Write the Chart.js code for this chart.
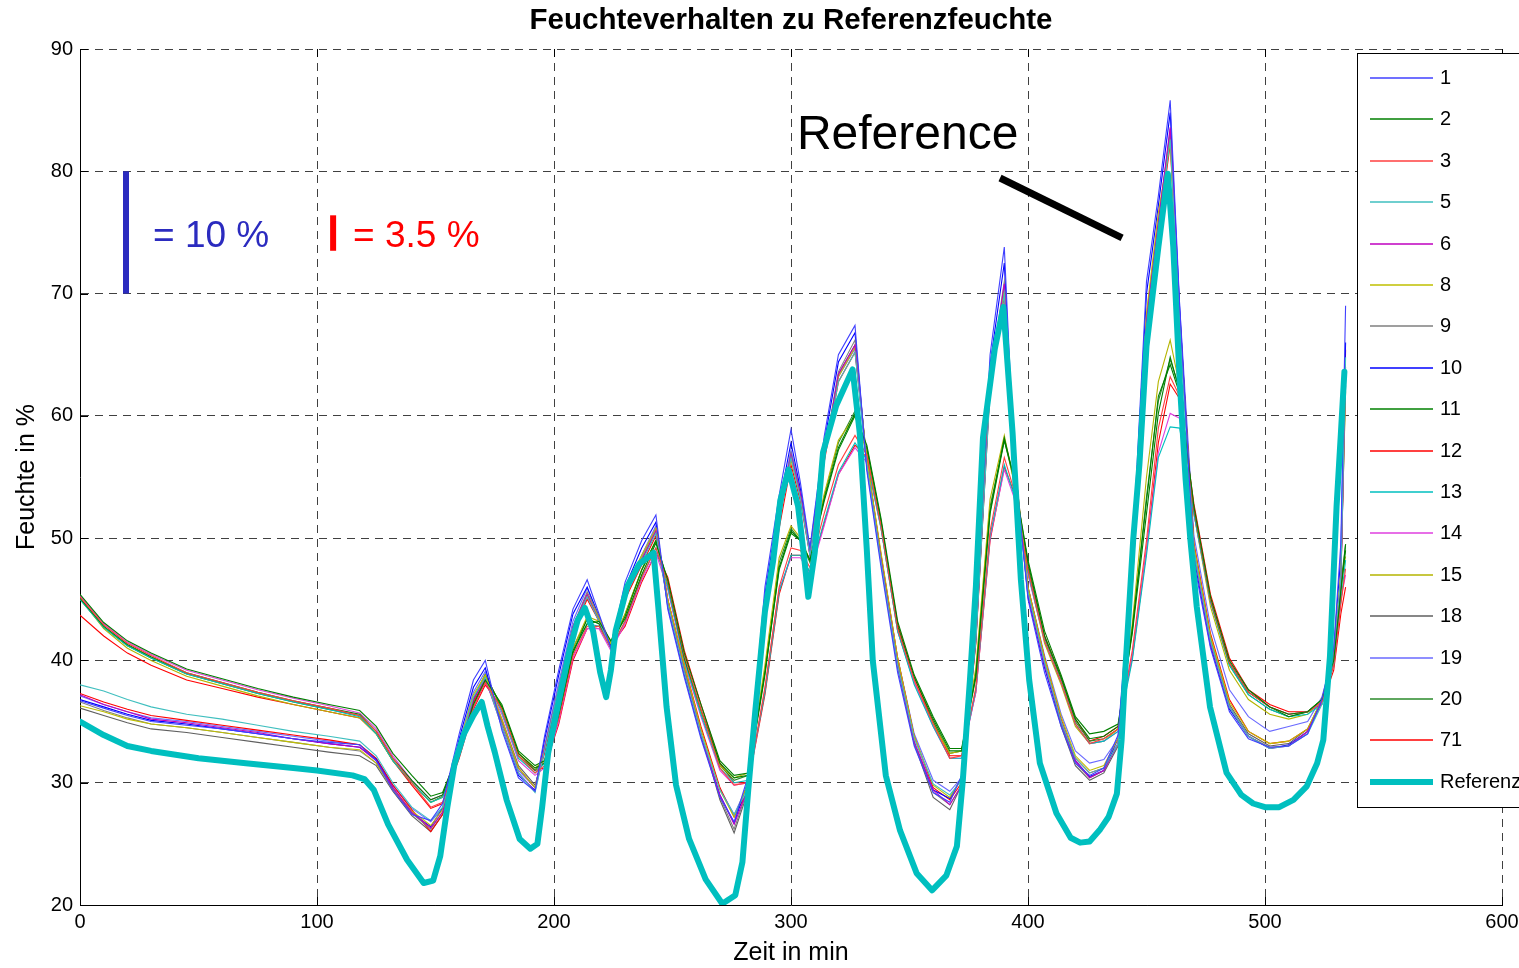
<!DOCTYPE html>
<html>
<head>
<meta charset="utf-8">
<title>Feuchteverhalten zu Referenzfeuchte</title>
<script src="https://cdn.jsdelivr.net/npm/chart.js@4.4.1/dist/chart.umd.min.js"></script>
<style>
  html, body { margin: 0; padding: 0; background: #fff; }
  canvas { display: block; }
</style>
</head>
<body>
<canvas id="feuchteChart" width="1519" height="968"></canvas>
<script>
// Sample times of the sensor logs (min)
const minutes = [
  0, 10, 20, 30, 45, 60, 75, 90, 105, 118,
  125, 132, 140, 148, 153, 160, 166, 171, 178, 185,
  192, 196, 202, 208, 214, 219, 224, 230, 237, 243,
  248, 255, 262, 270, 276, 282, 289, 295, 300, 304,
  308, 314, 320, 327, 332, 338, 345, 352, 360, 367,
  372, 378, 384, 390, 394, 400, 407, 414, 420, 426,
  432, 438, 444, 450, 455, 460, 464, 470, 477, 485,
  493, 502, 510, 518, 524, 529, 532, 534
];

// Humidity per sensor (%)
const sensor1 = [
  36.7, 36.1, 35.5, 35.0, 34.7, 34.4, 34.0, 33.6, 33.3, 33.1,
  31.8, 29.4, 27.4, 26.9, 28.3, 34.0, 38.4, 40.0, 34.3, 30.4,
  29.3, 33.8, 39.2, 44.2, 46.6, 43.8, 41.0, 46.4, 49.8, 51.9,
  44.2, 38.6, 33.6, 28.8, 26.8, 30.6, 46.0, 53.5, 58.9, 54.5,
  49.2, 58.3, 65.0, 67.4, 55.5, 47.6, 39.0, 33.0, 29.2, 28.4,
  30.6, 44.0, 65.0, 73.8, 57.0, 45.0, 39.0, 34.6, 31.6, 30.6,
  31.2, 33.9, 48.5, 71.0, 78.0, 85.8, 69.0, 48.0, 41.0, 35.8,
  33.6, 32.9, 33.0, 34.0, 36.8, 41.0, 49.6, 69.0
];
const sensor2 = [
  45.4, 43.1, 41.6, 40.6, 39.3, 38.5, 37.7, 37.0, 36.4, 35.9,
  34.6, 32.4, 30.6, 28.9, 29.2, 32.6, 36.4, 38.4, 36.4, 32.6,
  31.4, 31.8, 35.6, 40.8, 43.0, 43.2, 41.6, 43.4, 47.0, 49.6,
  46.6, 40.6, 36.4, 31.8, 30.6, 30.8, 39.0, 47.4, 50.4, 49.8,
  48.2, 53.0, 57.2, 60.0, 57.6, 51.6, 43.2, 38.8, 35.4, 32.8,
  32.8, 38.6, 52.0, 58.0, 55.0, 48.2, 42.4, 38.8, 35.4, 34.0,
  34.2, 34.8, 42.2, 52.0, 60.2, 64.8, 62.0, 52.6, 45.2, 40.0,
  37.6, 36.2, 35.6, 35.8, 36.8, 40.0, 45.6, 49.5
];
const sensor3 = [
  45.2, 42.9, 41.4, 40.4, 39.0, 38.2, 37.4, 36.7, 36.1, 35.5,
  34.2, 32.0, 30.0, 28.0, 28.4, 32.2, 36.2, 38.2, 36.0, 32.2,
  30.8, 31.4, 35.2, 40.4, 42.8, 42.8, 41.0, 43.2, 46.8, 49.2,
  46.4, 40.4, 36.0, 31.2, 29.8, 30.0, 37.8, 46.0, 49.2, 49.0,
  47.6, 52.0, 56.0, 58.4, 56.8, 51.0, 42.6, 38.4, 34.8, 32.0,
  32.2, 37.8, 50.6, 56.6, 54.0, 47.4, 41.6, 38.2, 34.8, 33.2,
  33.6, 34.4, 40.8, 49.8, 59.0, 63.2, 61.6, 52.4, 45.0, 39.8,
  37.4, 36.2, 35.6, 35.8, 36.6, 39.6, 44.6, 47.5
];
const sensor5 = [
  38.0, 37.5, 36.8, 36.2, 35.6, 35.2, 34.7, 34.2, 33.8, 33.4,
  32.2, 30.0, 28.0, 26.9, 28.0, 33.0, 37.0, 38.6, 34.6, 30.8,
  29.2, 32.6, 37.8, 42.6, 45.2, 43.2, 41.0, 45.2, 48.0, 50.4,
  44.6, 39.0, 34.0, 29.4, 27.4, 29.6, 43.8, 51.2, 56.6, 53.2,
  48.6, 56.4, 62.8, 65.2, 56.0, 48.0, 39.6, 33.6, 29.9, 29.0,
  30.2, 41.6, 62.0, 70.0, 56.2, 45.6, 39.8, 35.0, 32.0, 30.8,
  31.2, 33.2, 46.2, 67.0, 75.2, 82.6, 67.6, 49.0, 41.6, 36.2,
  33.8, 32.8, 33.0, 34.0, 36.4, 40.2, 46.8, 64.8
];
const sensor6 = [
  37.2, 36.4, 35.8, 35.2, 34.9, 34.5, 34.1, 33.6, 33.2, 32.9,
  31.8, 29.6, 27.6, 26.3, 27.6, 32.6, 36.8, 38.5, 34.6, 30.8,
  29.3, 32.8, 37.8, 42.8, 45.4, 43.2, 41.0, 45.4, 48.2, 50.6,
  44.6, 39.0, 34.0, 29.0, 26.6, 29.6, 44.0, 51.6, 56.8, 53.6,
  48.6, 56.6, 63.4, 65.8, 55.8, 48.2, 39.6, 33.4, 29.4, 28.2,
  29.8, 41.8, 62.8, 70.8, 56.2, 45.4, 39.6, 35.0, 31.8, 30.4,
  31.0, 33.2, 46.8, 67.8, 75.8, 83.6, 68.2, 48.8, 41.4, 36.2,
  33.8, 32.8, 33.0, 34.2, 36.6, 40.4, 46.6, 63.5
];
const sensor8 = [
  36.3, 35.8, 35.2, 34.8, 34.5, 34.1, 33.7, 33.3, 32.9, 32.7,
  31.6, 29.5, 27.7, 26.5, 27.8, 33.2, 37.2, 38.8, 35.2, 31.2,
  29.6, 32.8, 37.6, 42.6, 45.4, 43.4, 41.4, 45.8, 48.6, 50.8,
  45.0, 39.6, 34.4, 29.4, 27.2, 30.0, 44.2, 51.6, 56.4, 53.4,
  48.8, 56.8, 63.2, 65.6, 56.4, 48.8, 40.2, 33.8, 29.8, 28.8,
  30.4, 42.4, 63.0, 70.4, 56.8, 46.0, 40.2, 35.4, 32.2, 31.0,
  31.4, 33.6, 47.4, 68.4, 76.6, 82.4, 67.6, 49.4, 42.0, 36.6,
  34.2, 33.2, 33.4, 34.4, 36.8, 40.6, 47.2, 62.0
];
const sensor9 = [
  36.6, 35.9, 35.3, 34.8, 34.5, 34.1, 33.7, 33.3, 32.9, 32.6,
  31.6, 29.4, 27.5, 26.2, 27.6, 32.8, 37.0, 38.7, 35.0, 31.2,
  29.6, 32.8, 37.8, 42.8, 45.6, 43.6, 41.4, 45.6, 48.4, 50.8,
  44.8, 39.2, 34.0, 28.8, 26.2, 29.6, 44.0, 51.8, 57.0, 53.6,
  48.8, 56.8, 63.6, 66.2, 56.2, 48.2, 39.6, 33.2, 29.2, 28.2,
  29.8, 42.0, 63.2, 71.0, 56.6, 45.6, 39.8, 34.8, 31.6, 30.4,
  31.0, 33.2, 47.0, 68.2, 76.0, 83.2, 68.0, 49.0, 41.6, 36.2,
  33.8, 32.9, 33.0, 34.2, 36.6, 40.4, 47.0, 64.0
];
const sensor10 = [
  36.8, 36.2, 35.6, 35.1, 34.8, 34.4, 34.0, 33.6, 33.2, 32.9,
  31.9, 29.6, 27.5, 26.4, 27.9, 33.6, 37.8, 39.4, 34.6, 30.6,
  29.4, 33.5, 38.8, 43.8, 46.0, 43.6, 41.1, 46.0, 49.2, 51.3,
  44.4, 38.8, 33.8, 29.0, 26.7, 30.2, 45.4, 52.8, 57.8, 54.0,
  49.0, 57.8, 64.4, 66.8, 55.8, 48.0, 39.4, 33.2, 29.4, 28.7,
  30.4, 43.2, 64.2, 72.5, 56.8, 45.2, 39.4, 34.8, 31.8, 30.5,
  31.0, 33.6, 48.0, 70.0, 77.2, 84.8, 68.6, 48.4, 41.2, 36.0,
  33.8, 32.8, 33.1, 34.2, 36.6, 40.8, 48.6, 66.0
];
const sensor11 = [
  45.1, 42.8, 41.3, 40.3, 39.0, 38.2, 37.4, 36.7, 36.1, 35.6,
  34.2, 32.0, 30.2, 28.6, 29.0, 32.8, 36.8, 38.8, 36.2, 32.4,
  31.2, 31.6, 35.4, 40.6, 43.4, 43.0, 41.2, 43.6, 47.4, 49.8,
  46.4, 40.2, 36.0, 31.6, 30.4, 30.6, 38.8, 47.6, 50.6, 49.8,
  48.2, 53.2, 57.4, 60.2, 57.4, 51.4, 42.8, 38.6, 35.2, 32.6,
  32.6, 38.8, 52.2, 58.2, 55.0, 48.0, 42.0, 38.6, 35.2, 33.6,
  33.8, 34.6, 42.6, 53.0, 61.6, 64.2, 61.8, 52.4, 45.0, 39.8,
  37.4, 36.2, 35.4, 35.8, 36.8, 40.2, 45.8, 49.0
];
const sensor12 = [
  37.3, 36.6, 36.0, 35.5, 35.1, 34.7, 34.3, 33.9, 33.5, 33.1,
  32.0, 29.8, 27.8, 26.0, 27.4, 32.4, 36.6, 38.4, 35.0, 31.2,
  29.6, 32.4, 37.4, 42.4, 45.0, 43.2, 41.2, 45.0, 47.8, 50.2,
  45.0, 39.6, 34.6, 29.6, 27.2, 29.4, 43.2, 50.8, 56.0, 53.0,
  48.6, 56.2, 62.8, 65.2, 56.4, 48.6, 40.2, 33.8, 29.6, 28.6,
  30.0, 41.4, 62.2, 69.8, 56.4, 46.0, 40.2, 35.2, 32.0, 30.8,
  31.2, 33.2, 46.0, 66.8, 75.0, 82.2, 67.8, 49.6, 42.2, 36.8,
  34.2, 33.2, 33.4, 34.4, 36.6, 40.2, 46.0, 65.4
];
const sensor13 = [
  45.0, 42.7, 41.2, 40.2, 38.9, 38.1, 37.3, 36.6, 36.0, 35.4,
  34.0, 31.8, 30.0, 28.4, 28.8, 32.4, 36.4, 38.4, 35.8, 32.0,
  30.8, 31.6, 35.4, 40.6, 43.0, 42.8, 41.0, 43.2, 46.8, 49.2,
  46.0, 40.0, 35.6, 31.2, 30.0, 30.2, 37.4, 45.6, 48.6, 48.6,
  47.2, 51.4, 55.4, 57.8, 56.4, 50.8, 42.4, 38.0, 34.6, 32.0,
  32.0, 37.6, 50.2, 56.0, 53.6, 47.2, 41.6, 38.2, 34.8, 33.2,
  33.4, 34.2, 40.0, 48.6, 56.6, 59.1, 59.0, 52.0, 44.8, 39.6,
  37.2, 36.0, 35.4, 35.6, 36.4, 39.6, 44.8, 48.2
];
const sensor14 = [
  45.3, 43.0, 41.5, 40.5, 39.2, 38.4, 37.6, 36.9, 36.3, 35.7,
  34.4, 32.2, 30.2, 28.6, 29.0, 32.4, 36.2, 38.2, 35.6, 31.8,
  30.6, 31.2, 35.0, 40.2, 42.6, 42.6, 40.8, 43.0, 46.6, 48.8,
  45.8, 39.8, 35.4, 31.0, 29.8, 30.0, 37.6, 45.8, 48.4, 48.4,
  47.0, 51.0, 55.2, 57.4, 56.2, 50.8, 42.4, 38.2, 34.6, 32.0,
  32.0, 37.4, 50.0, 55.6, 53.4, 47.0, 41.6, 38.2, 34.8, 33.2,
  33.4, 34.2, 40.4, 49.0, 57.0, 60.2, 59.8, 52.0, 44.8, 39.8,
  37.4, 36.2, 35.6, 35.8, 36.6, 39.8, 45.0, 47.0
];
const sensor15 = [
  45.1, 42.6, 41.0, 40.0, 38.7, 37.9, 37.1, 36.4, 35.8, 35.3,
  34.0, 31.8, 30.0, 28.4, 28.8, 32.8, 36.8, 38.8, 36.2, 32.4,
  31.2, 31.8, 35.8, 41.0, 43.6, 43.2, 41.2, 43.8, 47.4, 49.8,
  46.2, 40.2, 35.8, 31.4, 30.4, 30.8, 39.6, 48.4, 51.0, 50.0,
  48.2, 53.6, 58.0, 60.0, 57.0, 50.8, 42.4, 38.2, 34.8, 32.4,
  32.6, 39.4, 53.2, 58.4, 54.6, 47.2, 41.4, 38.0, 34.6, 33.2,
  33.4, 34.4, 43.0, 55.0, 62.8, 66.2, 62.4, 52.0, 44.4, 39.2,
  36.8, 35.6, 35.2, 35.6, 36.8, 40.4, 46.4, 48.5
];
const sensor18 = [
  36.1, 35.5, 34.9, 34.4, 34.1, 33.7, 33.3, 32.9, 32.5, 32.2,
  31.4, 29.3, 27.3, 26.0, 27.4, 32.6, 36.8, 38.6, 35.2, 31.4,
  29.8, 32.6, 37.4, 42.4, 45.2, 43.4, 41.4, 45.4, 48.2, 50.6,
  45.0, 39.4, 34.0, 28.6, 25.9, 29.4, 43.6, 51.4, 56.6, 53.4,
  48.8, 56.6, 63.4, 65.8, 56.4, 48.4, 39.8, 33.2, 28.8, 27.8,
  29.8, 41.6, 62.6, 70.2, 56.8, 45.8, 39.8, 34.6, 31.4, 30.2,
  30.8, 33.0, 46.4, 67.4, 75.4, 82.8, 68.4, 49.4, 41.8, 36.4,
  34.0, 33.0, 33.2, 34.4, 36.8, 40.4, 46.6, 62.5
];
const sensor19 = [
  37.1, 36.4, 35.8, 35.3, 35.0, 34.6, 34.2, 33.8, 33.4, 33.1,
  32.0, 29.8, 27.9, 26.8, 27.9, 33.2, 37.4, 39.1, 35.0, 31.0,
  29.6, 33.0, 38.2, 43.2, 45.9, 43.5, 41.3, 45.7, 48.6, 51.0,
  44.8, 39.2, 34.4, 29.5, 27.4, 29.9, 44.6, 52.2, 57.2, 53.8,
  48.9, 56.8, 63.2, 65.5, 56.2, 48.6, 40.2, 34.0, 30.2, 29.3,
  30.4, 42.0, 62.5, 70.5, 56.8, 46.0, 40.4, 35.6, 32.6, 31.6,
  31.9, 33.6, 46.5, 67.5, 75.5, 83.5, 69.0, 50.2, 42.8, 37.6,
  35.4, 34.2, 34.6, 35.0, 37.0, 40.6, 46.5, 63.0
];
const sensor20 = [
  45.0, 42.7, 41.2, 40.2, 38.9, 38.1, 37.3, 36.6, 36.0, 35.5,
  34.0, 31.8, 30.0, 28.4, 28.9, 32.8, 36.8, 38.9, 36.0, 32.2,
  31.0, 31.8, 35.8, 41.0, 43.4, 43.0, 41.0, 43.8, 47.4, 49.8,
  46.2, 40.0, 35.8, 31.4, 30.2, 30.6, 39.2, 48.0, 50.8, 49.8,
  48.0, 53.4, 57.8, 60.4, 57.2, 51.0, 42.6, 38.2, 35.0, 32.4,
  32.6, 39.0, 52.6, 58.0, 54.8, 47.6, 41.8, 38.4, 35.0, 33.4,
  33.6, 34.4, 42.4, 53.4, 61.2, 64.6, 62.2, 52.2, 44.8, 39.6,
  37.2, 36.0, 35.4, 35.8, 36.8, 40.4, 46.2, 49.5
];
const sensor71 = [
  43.7, 42.0, 40.6, 39.6, 38.4, 37.7, 37.0, 36.4, 35.8, 35.3,
  34.0, 31.8, 29.8, 27.9, 28.3, 32.0, 36.0, 38.0, 36.2, 32.4,
  31.0, 31.2, 34.8, 40.0, 42.6, 42.8, 41.2, 42.8, 46.4, 48.8,
  46.8, 40.8, 36.4, 31.6, 30.0, 30.0, 37.2, 45.4, 48.6, 48.6,
  47.2, 51.2, 55.2, 57.6, 56.6, 51.2, 43.0, 38.6, 35.0, 32.2,
  32.2, 37.4, 49.8, 55.8, 53.8, 47.6, 42.0, 38.6, 35.2, 33.4,
  33.8, 34.6, 40.2, 49.0, 57.8, 62.6, 61.4, 52.8, 45.4, 40.2,
  37.6, 36.4, 35.8, 35.8, 36.4, 39.2, 43.8, 46.0
];

// Reference hygrometer, own time base
const refMinutes = [
  0, 10, 20, 30, 50, 70, 90, 100, 115, 120,
  124, 130, 138, 145, 149, 152, 155, 158, 162, 166,
  169.5, 172, 175, 180, 185.5, 190, 193, 195, 197.5, 201,
  206.5, 210, 213, 216.5, 219.5, 222, 224, 226, 231, 236,
  242, 244, 247.5, 251.5, 257, 264, 271, 276.5, 279.5, 282,
  285, 289, 292.5, 295.5, 299, 303, 305.5, 307.3, 310, 313.5,
  319, 326, 329, 332, 334.5, 340, 346, 353, 359.5, 365.5,
  370, 372.5, 375.5, 378, 381, 386, 389.6, 393.5, 397, 400.5,
  405, 412, 418, 422, 426, 430.5, 434, 437.5, 439.5, 441,
  444.4, 447, 450, 455, 459, 461.3, 464, 466.5, 468.5, 471.2,
  476.8, 483.8, 490, 495, 500, 506, 512, 517.6, 522, 524.6,
  527.4, 530.2, 532, 533.5
];
const referenceValues = [
  35.0, 33.9, 33.0, 32.6, 32.0, 31.6, 31.2, 31.0, 30.6, 30.3,
  29.4, 26.6, 23.7, 21.8, 22.0, 24.0, 28.0, 31.5, 34.0, 35.5,
  36.6, 34.6, 32.5, 28.6, 25.4, 24.6, 25.0, 28.0, 32.4, 35.7,
  40.8, 43.3, 44.3, 42.4, 39.0, 37.0, 39.2, 42.4, 46.1, 47.9,
  48.8, 44.4, 36.2, 29.8, 25.4, 22.1, 20.1, 20.8, 23.5, 29.5,
  36.0, 44.0, 48.2, 53.1, 55.6, 52.6, 48.5, 45.2, 48.8, 57.0,
  60.8, 63.8, 58.6, 49.0, 40.0, 30.6, 26.1, 22.6, 21.2, 22.4,
  24.8, 30.2, 38.4, 46.0, 58.2, 65.5, 68.9, 58.6, 46.6, 38.4,
  31.6, 27.5, 25.5, 25.1, 25.2, 26.2, 27.2, 29.1, 33.5, 39.0,
  49.9, 56.0, 65.7, 73.8, 79.8, 73.8, 62.9, 54.8, 49.9, 44.4,
  36.2, 30.8, 29.0, 28.3, 28.0, 28.0, 28.6, 29.7, 31.6, 33.5,
  40.3, 52.6, 58.5, 63.6
];

const sensorSeries = [
  ['1', sensor1], ['2', sensor2], ['3', sensor3], ['5', sensor5],
  ['6', sensor6], ['8', sensor8], ['9', sensor9], ['10', sensor10],
  ['11', sensor11], ['12', sensor12], ['13', sensor13], ['14', sensor14],
  ['15', sensor15], ['18', sensor18], ['19', sensor19], ['20', sensor20],
  ['71', sensor71]
];

const lineColors = {
  '1': '#4040ff', '2': '#007f00', '3': '#ff3f3f', '5': '#3fbfbf',
  '6': '#bf00bf', '8': '#bfbf00', '9': '#7f7f7f', '10': '#0000ff',
  '11': '#008000', '12': '#ff0000', '13': '#00bfbf', '14': '#df3fdf',
  '15': '#b5b500', '18': '#5f5f5f', '19': '#6a6aff', '20': '#2a8a2a',
  '71': '#ff0000'
};
const referenceColor = '#00bfbf';

const datasets = sensorSeries.map(([label, values]) => ({
  label: label,
  data: minutes.map((t, i) => ({ x: t, y: values[i] })),
  borderColor: lineColors[label],
  borderWidth: 1.1,
  pointRadius: 0,
  tension: 0
}));
datasets.push({
  label: 'Referenz',
  data: refMinutes.map((t, i) => ({ x: t, y: referenceValues[i] })),
  borderColor: referenceColor,
  borderWidth: 6,
  borderJoinStyle: 'round',
  borderCapStyle: 'round',
  pointRadius: 0,
  tension: 0,
  order: -1
});

const FONT = '"Liberation Sans", Arial, Helvetica, sans-serif';
Chart.defaults.font.family = FONT;
Chart.defaults.color = '#000';

// Title, scale bars, "Reference" callout, inner tick marks and the boxed legend
const overlay = {
  id: 'overlay',
  afterDraw(chart) {
    const { ctx, chartArea } = chart;
    const xs = chart.scales.x, ys = chart.scales.y;
    ctx.save();

    // title over the plot area
    ctx.fillStyle = '#000';
    ctx.font = 'bold 29.5px ' + FONT;
    ctx.textAlign = 'center';
    ctx.textBaseline = 'middle';
    ctx.fillText('Feuchteverhalten zu Referenzfeuchte', (chartArea.left + chartArea.right) / 2, 21);

    // inward tick marks
    ctx.strokeStyle = '#000';
    ctx.lineWidth = 1;
    ctx.beginPath();
    xs.ticks.forEach(t => {
      const px = Math.round(xs.getPixelForValue(t.value)) + 0.5;
      ctx.moveTo(px, chartArea.bottom); ctx.lineTo(px, chartArea.bottom - 8);
      ctx.moveTo(px, chartArea.top); ctx.lineTo(px, chartArea.top + 8);
    });
    ys.ticks.forEach(t => {
      const py = Math.round(ys.getPixelForValue(t.value)) + 0.5;
      ctx.moveTo(chartArea.left, py); ctx.lineTo(chartArea.left + 8, py);
    });
    ctx.stroke();

    // scale bars
    ctx.lineCap = 'butt';
    ctx.strokeStyle = '#2b2bbf';
    ctx.lineWidth = 6;
    ctx.beginPath();
    ctx.moveTo(xs.getPixelForValue(19.4), ys.getPixelForValue(80));
    ctx.lineTo(xs.getPixelForValue(19.4), ys.getPixelForValue(70));
    ctx.stroke();
    ctx.strokeStyle = '#ff0000';
    ctx.beginPath();
    ctx.moveTo(xs.getPixelForValue(106.8), ys.getPixelForValue(76.4));
    ctx.lineTo(xs.getPixelForValue(106.8), ys.getPixelForValue(73.5));
    ctx.stroke();

    ctx.font = '37px ' + FONT;
    ctx.textAlign = 'left';
    ctx.textBaseline = 'alphabetic';
    ctx.fillStyle = '#2b2bbf';
    ctx.fillText('= 10 %', xs.getPixelForValue(30.8), ys.getPixelForValue(73.8));
    ctx.fillStyle = '#ff0000';
    ctx.fillText('= 3.5 %', xs.getPixelForValue(115.2), ys.getPixelForValue(73.8));

    // callout
    ctx.fillStyle = '#000';
    ctx.font = '48px ' + FONT;
    ctx.fillText('Reference', xs.getPixelForValue(302.5), ys.getPixelForValue(81.8));
    ctx.strokeStyle = '#000';
    ctx.lineWidth = 7;
    ctx.beginPath();
    ctx.moveTo(xs.getPixelForValue(388.2), ys.getPixelForValue(79.45));
    ctx.lineTo(xs.getPixelForValue(439.7), ys.getPixelForValue(74.55));
    ctx.stroke();

    // legend box
    const boxX = 1357.5, boxY = 53.5, boxH = 754;
    ctx.fillStyle = '#fff';
    ctx.fillRect(boxX, boxY, 220, boxH);
    ctx.strokeStyle = '#000';
    ctx.lineWidth = 1;
    ctx.strokeRect(boxX, boxY, 220, boxH);
    ctx.font = '20px ' + FONT;
    ctx.textBaseline = 'middle';
    chart.data.datasets.forEach((ds, i) => {
      const y = Math.round(78 + i * 41.4);
      ctx.strokeStyle = ds.borderColor;
      ctx.lineWidth = Math.max(ds.borderWidth, 1.6);
      ctx.beginPath();
      ctx.moveTo(1370, y);
      ctx.lineTo(1433, y);
      ctx.stroke();
      ctx.fillStyle = '#000';
      ctx.fillText(ds.label, 1440, y);
    });
    ctx.restore();
  }
};

new Chart(document.getElementById('feuchteChart'), {
  type: 'line',
  data: { datasets: datasets },
  plugins: [overlay],
  options: {
    responsive: false,
    animation: false,
    layout: { autoPadding: false, padding: { top: 49, right: 17, bottom: 0, left: 0 } },
    plugins: {
      legend: { display: false },
      tooltip: { enabled: false },
      title: { display: false }
    },
    scales: {
      x: {
        type: 'linear',
        min: 0,
        max: 600,
        ticks: { stepSize: 100, padding: 5, font: { size: 20 }, color: '#000', maxRotation: 0 },
        grid: { color: 'rgba(0,0,0,0.75)', lineWidth: 1, drawTicks: false },
        border: { display: true, color: '#000', width: 1, dash: [8, 6] },
        title: { display: true, text: 'Zeit in min', font: { size: 25 }, color: '#000', padding: { top: 0, bottom: 0 } },
        afterFit(scale) {
          scale.height = 63;
          scale.paddingLeft = 0;
          scale.paddingRight = 0;
        }
      },
      y: {
        min: 20,
        max: 90,
        ticks: { stepSize: 10, padding: 7, font: { size: 20 }, color: '#000' },
        grid: { color: 'rgba(0,0,0,0.75)', lineWidth: 1, drawTicks: false },
        border: { display: true, color: '#000', width: 1, dash: [8, 6] },
        title: { display: true, text: 'Feuchte in %', font: { size: 25 }, color: '#000', padding: { top: 12, bottom: 0 } },
        afterFit(scale) {
          scale.width = 80;
          scale.paddingTop = 0;
          scale.paddingBottom = 0;
        }
      }
    }
  }
});
</script>
</body>
</html>
